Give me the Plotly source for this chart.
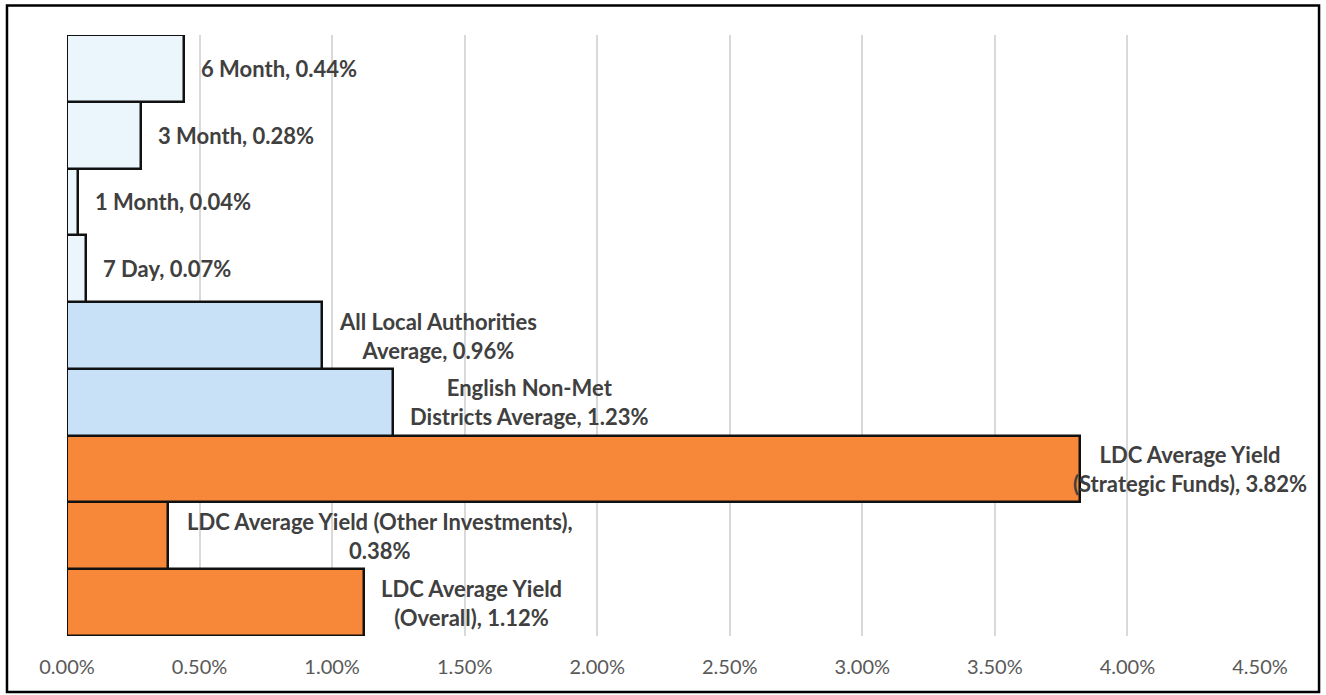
import plotly.graph_objects as go

# Data (bottom to top)
categories = [
    "LDC Average Yield (Overall)",
    "LDC Average Yield (Other Investments)",
    "LDC Average Yield (Strategic Funds)",
    "English Non-Met Districts Average",
    "All Local Authorities Average",
    "7 Day",
    "1 Month",
    "3 Month",
    "6 Month",
]
values = [0.0112, 0.0038, 0.0382, 0.0123, 0.0096, 0.0007, 0.0004, 0.0028, 0.0044]
label_names = [
    "LDC Average Yield<br>(Overall)",
    "LDC Average Yield (Other Investments),<br>",
    "LDC Average Yield<br>(Strategic Funds)",
    "English Non-Met<br>Districts Average",
    "All Local Authorities<br>Average",
    "7 Day",
    "1 Month",
    "3 Month",
    "6 Month",
]
tick_values = [0, 0.005, 0.01, 0.015, 0.02, 0.025, 0.03, 0.035, 0.04, 0.045]

# Styles
colors = ["#F7883A", "#F7883A", "#F7883A", "#C9E1F7", "#C9E1F7",
          "#EAF5FC", "#EAF5FC", "#EAF5FC", "#EAF5FC"]
label_shift = [15, 17, -9, 15, 15, 15, 15, 15, 15]

fig = go.Figure()
fig.add_trace(go.Bar(
    y=categories,
    x=values,
    orientation="h",
    marker=dict(color=colors, line=dict(color="#111111", width=2.5)),
    hoverinfo="x+y",
))

for name, val, cat, sh in zip(label_names, values, categories, label_shift):
    sep = "" if name.endswith("<br>") else ", "
    fig.add_annotation(
        x=val, y=cat, xref="x", yref="y",
        text=f"<b>{name}{sep}{val*100:.2f}%</b>",
        showarrow=False, xanchor="left", yanchor="middle",
        align="center", xshift=sh,
        font=dict(family="Lato", size=22, color="#404040"),
    )

# Chart border
fig.add_shape(type="rect", xref="paper", yref="paper",
              x0=-0.0503, x1=1.0495, y0=-0.0932, y1=1.049,
              line=dict(color="#000000", width=2.5), layer="below")

fig.update_layout(
    width=1326, height=695,
    margin=dict(l=67, r=66, t=35, b=59),
    paper_bgcolor="white", plot_bgcolor="white",
    bargap=0,
    showlegend=False,
    xaxis=dict(
        range=[0, 0.045], tickvals=tick_values, tickformat=".2%",
        showgrid=True, gridcolor="#D9D9D9", gridwidth=1.5,
        zeroline=False, showline=False, ticks="",
        ticklabelstandoff=17,
        tickfont=dict(family="Lato", size=20, color="#595959"),
    ),
    yaxis=dict(showticklabels=False, showgrid=False, zeroline=False,
               showline=False, ticks=""),
)

fig.write_html("out.html")
